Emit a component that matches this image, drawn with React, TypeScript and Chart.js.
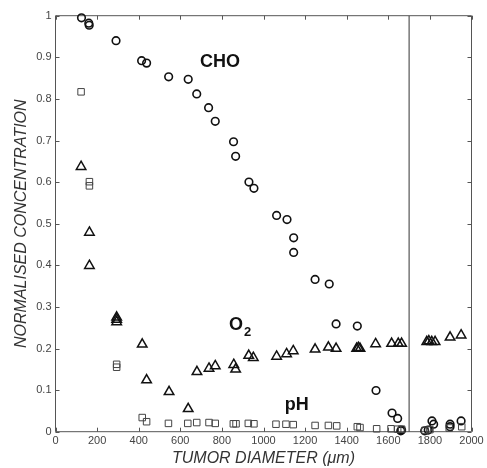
import React, { useEffect, useRef } from "react";
import { Chart, registerables } from "chart.js";

Chart.register(...registerables);

// CHO (circles)
const choX = [125, 160, 162, 291, 414, 438, 544, 638, 679, 736, 768, 856, 866, 930, 954, 1063, 1113, 1145, 1145, 1248, 1316, 1349, 1451, 1541, 1618, 1645, 1664, 1660, 1775, 1792, 1810, 1818, 1897, 1897, 1950];
const choY = [0.995, 0.982, 0.977, 0.94, 0.892, 0.886, 0.853, 0.847, 0.812, 0.779, 0.746, 0.697, 0.662, 0.6, 0.585, 0.52, 0.51, 0.466, 0.431, 0.366, 0.355, 0.259, 0.254, 0.099, 0.045, 0.032, 0.004, 0.002, 0.002, 0.004, 0.026, 0.018, 0.018, 0.012, 0.026];

// O2 (triangles)
const o2X = [123, 163, 163, 294, 294, 294, 417, 438, 546, 638, 680, 738, 768, 857, 866, 929, 951, 1063, 1111, 1143, 1248, 1312, 1349, 1448, 1456, 1464, 1539, 1616, 1648, 1664, 1785, 1795, 1809, 1825, 1897, 1950];
const o2Y = [0.637, 0.479, 0.399, 0.275, 0.27, 0.264, 0.21, 0.124, 0.096, 0.055, 0.144, 0.152, 0.158, 0.161, 0.15, 0.183, 0.178, 0.181, 0.187, 0.194, 0.198, 0.203, 0.2, 0.2, 0.202, 0.2, 0.211, 0.212, 0.212, 0.212, 0.216, 0.218, 0.216, 0.216, 0.227, 0.232];

// pH (squares)
const phX = [123, 163, 163, 294, 294, 417, 438, 543, 636, 679, 738, 768, 855, 868, 927, 954, 1060, 1108, 1143, 1248, 1312, 1352, 1451, 1464, 1544, 1613, 1645, 1664, 1776, 1800, 1893, 1953];
const phY = [0.817, 0.601, 0.591, 0.162, 0.155, 0.034, 0.024, 0.02, 0.02, 0.022, 0.022, 0.02, 0.019, 0.019, 0.02, 0.019, 0.018, 0.018, 0.017, 0.015, 0.015, 0.014, 0.012, 0.01, 0.007, 0.007, 0.006, 0.006, 0.003, 0.005, 0.009, 0.012];

// vertical divider
const dividerX = 1700;

// axis ticks
const xTicks = [0, 200, 400, 600, 800, 1000, 1200, 1400, 1600, 1800, 2000];
const yTicks = [0, 0.1, 0.2, 0.3, 0.4, 0.5, 0.6, 0.7, 0.8, 0.9, 1];

// in-plot labels
const labelText = ["CHO", "O", "pH"];
const labelSub = ["", "2", ""];
const labelX = [791, 834, 1160];
const labelY = [0.889, 0.256, 0.064];

const toPts = (xs: number[], ys: number[]) => xs.map((x, i) => ({ x, y: ys[i] }));

const framePlugin = {
  id: "frame",
  beforeDatasetsDraw(chart: any) {
    const { ctx, chartArea: a, scales } = chart;
    const xs = scales.x, ys = scales.y;
    ctx.save();
    ctx.strokeStyle = "#555";
    ctx.lineWidth = 1;
    ctx.beginPath();
    ctx.rect(a.left, a.top, a.right - a.left, a.bottom - a.top);
    ctx.stroke();
    const tl = 4;
    ctx.beginPath();
    xTicks.forEach((v) => {
      const px = Math.round(xs.getPixelForValue(v)) + 0.5;
      ctx.moveTo(px, a.bottom);
      ctx.lineTo(px, a.bottom - tl);
      ctx.moveTo(px, a.top);
      ctx.lineTo(px, a.top + tl);
    });
    yTicks.forEach((v) => {
      const py = Math.round(ys.getPixelForValue(v)) + 0.5;
      ctx.moveTo(a.left, py);
      ctx.lineTo(a.left + tl, py);
      ctx.moveTo(a.right, py);
      ctx.lineTo(a.right - tl, py);
    });
    ctx.stroke();
    ctx.restore();
  },
  afterDatasetsDraw(chart: any) {
    const { ctx, scales } = chart;
    ctx.save();
    ctx.fillStyle = "#111";
    ctx.textBaseline = "middle";
    ctx.textAlign = "left";
    labelText.forEach((t, i) => {
      const px = scales.x.getPixelForValue(labelX[i]);
      const py = scales.y.getPixelForValue(labelY[i]);
      ctx.font = "bold 18px 'Liberation Sans', Arial, sans-serif";
      const w = ctx.measureText(t).width;
      let left = px;
      if (!labelSub[i]) left = px - w / 2;
      ctx.fillText(t, left, py);
      if (labelSub[i]) {
        ctx.font = "bold 13px 'Liberation Sans', Arial, sans-serif";
        ctx.fillText(labelSub[i], left + w + 1, py + 7);
      }
    });
    ctx.restore();
  },
};

export default function App() {
  const ref = useRef<HTMLCanvasElement>(null);
  useEffect(() => {
    if (!ref.current) return;
    const markerCommon = { showLine: false, clip: false as any, backgroundColor: "rgba(0,0,0,0)" };
    const chart = new Chart(ref.current, {
      type: "scatter",
      data: {
        datasets: [
          {
            type: "line",
            label: "divider",
            data: [{ x: dividerX, y: 0 }, { x: dividerX, y: 1 }],
            borderColor: "#333",
            borderWidth: 1,
            pointRadius: 0,
            fill: false,
          } as any,
          {
            label: "pH",
            data: toPts(phX, phY),
            ...markerCommon,
            pointStyle: "rect",
            pointRadius: 4.6,
            borderColor: "#444",
            borderWidth: 1,
          },
          {
            label: "O2",
            data: toPts(o2X, o2Y),
            ...markerCommon,
            pointStyle: "triangle",
            pointRadius: 5.5,
            borderColor: "#111",
            borderWidth: 1.5,
          },
          {
            label: "CHO",
            data: toPts(choX, choY),
            ...markerCommon,
            pointStyle: "circle",
            pointRadius: 3.8,
            borderColor: "#111",
            borderWidth: 1.6,
          },
        ],
      },
      options: {
        animation: false,
        responsive: false,
        layout: { padding: { left: 0, top: 15.7, right: 15.5, bottom: 0 } },
        plugins: { legend: { display: false }, tooltip: { enabled: false } },
        scales: {
          x: {
            type: "linear",
            min: 0,
            max: 2000,
            afterFit: (s: any) => {
              s.height = 36.3;
            },
            afterBuildTicks: (s: any) => {
              s.ticks = xTicks.map((v) => ({ value: v }));
            },
            grid: { display: false, drawTicks: false, tickLength: 0 },
            border: { display: false },
            ticks: {
              padding: 3,
              color: "#444",
              font: { family: "'Liberation Sans', Arial, sans-serif", size: 11 },
              maxRotation: 0,
              callback: (v: any) => String(v),
            },
            title: {
              display: true,
              text: "TUMOR DIAMETER (\u03bcm)",
              color: "#333",
              font: { family: "'Liberation Sans', Arial, sans-serif", size: 16, style: "italic" },
              padding: { top: 0, bottom: 0 },
            },
          },
          y: {
            type: "linear",
            min: 0,
            max: 1,
            afterFit: (s: any) => {
              s.width = 55.5;
            },
            afterBuildTicks: (s: any) => {
              s.ticks = yTicks.map((v) => ({ value: v }));
            },
            grid: { display: false, drawTicks: false, tickLength: 0 },
            border: { display: false },
            ticks: {
              padding: 4,
              color: "#444",
              font: { family: "'Liberation Sans', Arial, sans-serif", size: 11 },
              callback: (v: any) => String(Math.round(v * 10) / 10),
            },
            title: {
              display: true,
              text: "NORMALISED CONCENTRATION",
              color: "#333",
              font: { family: "'Liberation Sans', Arial, sans-serif", size: 16, style: "italic" },
              padding: { top: 12, bottom: 0 },
            },
          },
        },
      },
      plugins: [framePlugin],
    });
    return () => chart.destroy();
  }, []);
  return (
    <div style={{ position: "fixed", left: 0, top: 0, width: 487, height: 468, background: "#fff" }}>
      <canvas ref={ref} width={487} height={468} style={{ display: "block" }} />
    </div>
  );
}
